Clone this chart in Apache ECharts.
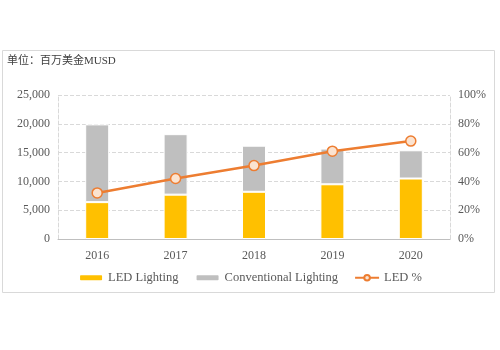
<!DOCTYPE html>
<html>
<head>
<meta charset="utf-8">
<script src="https://cdn.jsdelivr.net/npm/echarts@6/dist/echarts.min.js"></script>
<style>
  html, body { margin: 0; padding: 0; background: #fff; }
  #chart { width: 500px; height: 350px; }
</style>
</head>
<body>
<div id="chart"></div>
<script>
var years = ['2016', '2017', '2018', '2019', '2020'];
var ledLighting = [6400, 7700, 8200, 9500, 10500];
var conventionalLighting = [13500, 10500, 8000, 6200, 4900];
var ledShare = [32, 42, 51, 61, 68];

var font = '"Liberation Serif", "DejaVu Serif", "Noto Sans CJK SC", serif';
var textColor = '#595959';

var myChart = echarts.init(document.getElementById('chart'));

var option = {
  animation: false,
  textStyle: { fontFamily: font, color: textColor },
  graphic: [
    {
      type: 'rect',
      shape: { x: 2.5, y: 50.5, width: 492, height: 242 },
      style: { fill: 'none', stroke: '#d9d9d9', lineWidth: 1 },
      silent: true
    },
    {
      type: 'text',
      left: 7,
      top: 56,
      style: { text: '单位：百万美金MUSD', fontFamily: font, fontSize: 11, fill: '#404040' }
    }
  ],
  grid: { left: 58, right: 50, top: 95, bottom: 111 },
  legend: {
    bottom: 61,
    left: 'center',
    itemGap: 16,
    itemWidth: 24,
    itemHeight: 7,
    textStyle: { fontFamily: font, fontSize: 12.5, color: textColor },
    data: [
      { name: 'LED Lighting' },
      { name: 'Conventional Lighting' },
      { name: 'LED %', itemStyle: { color: '#fbe3d0', borderColor: '#ed7d31' } }
    ]
  },
  xAxis: {
    type: 'category',
    data: years,
    axisTick: { show: false },
    axisLine: { lineStyle: { color: '#bfbfbf' } },
    axisLabel: { fontFamily: font, fontSize: 12, color: textColor, margin: 11 }
  },
  yAxis: [
    {
      type: 'value',
      min: 0,
      max: 25000,
      interval: 5000,
      axisLine: { show: true, lineStyle: { color: '#d9d9d9', type: 'dashed' } },
      splitLine: { lineStyle: { color: '#d9d9d9', type: 'dashed' } },
      axisLabel: {
        fontFamily: font, fontSize: 12, color: textColor, margin: 8,
        formatter: function (v) { return v.toLocaleString('en-US'); }
      }
    },
    {
      type: 'value',
      min: 0,
      max: 100,
      interval: 20,
      axisLine: { show: true, lineStyle: { color: '#d9d9d9', type: 'dashed' } },
      splitLine: { show: false },
      axisLabel: { fontFamily: font, fontSize: 12, color: textColor, margin: 8, formatter: '{value}%' }
    }
  ],
  series: [
    {
      name: 'LED Lighting',
      type: 'bar',
      stack: 'total',
      barWidth: 24,
      data: ledLighting,
      itemStyle: { color: '#ffc000', borderColor: '#fff', borderWidth: 1 }
    },
    {
      name: 'Conventional Lighting',
      type: 'bar',
      stack: 'total',
      barWidth: 24,
      data: conventionalLighting,
      itemStyle: { color: '#bfbfbf', borderColor: '#fff', borderWidth: 1 }
    },
    {
      name: 'LED %',
      type: 'line',
      yAxisIndex: 1,
      data: ledShare,
      symbol: 'circle',
      symbolSize: 10,
      lineStyle: { color: '#ed7d31', width: 2.5 },
      itemStyle: { color: '#fbe3d0', borderColor: '#ed7d31', borderWidth: 1.5 }
    }
  ]
};

myChart.setOption(option);
</script>
</body>
</html>
